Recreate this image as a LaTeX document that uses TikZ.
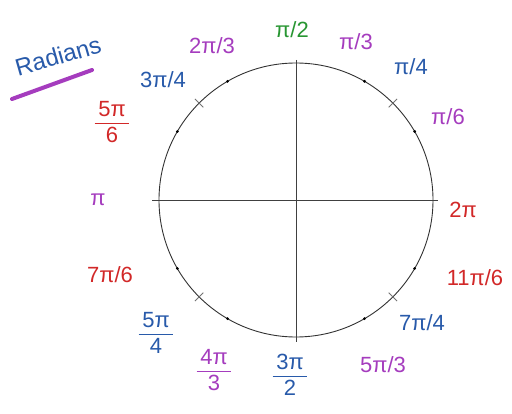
\documentclass[tikz,border=0pt]{standalone}
\usepackage{fontspec}
\setmainfont{Liberation Sans}
\usetikzlibrary{calc}
\definecolor{hgreen}{RGB}{40,150,50}
\definecolor{hpurple}{RGB}{165,60,190}
\definecolor{hblue}{RGB}{40,90,170}
\definecolor{hred}{RGB}{210,40,40}
\newcommand\stk[2]{\setlength{\arrayrulewidth}{1.8pt}\begin{tabular}{@{\,}c@{\,}}#1\\[-1pt]\hline\noalign{\vskip2pt}#2\end{tabular}}
\begin{document}
\begin{tikzpicture}[x=1pt,y=-1pt,
  lab/.style={font=\fontsize{22}{24}\selectfont, inner sep=0pt},
  stacklab/.style={font=\fontsize{22}{23}\selectfont, inner sep=0pt},
  circ/.style={draw=black!80, line width=0.9pt},
  axis/.style={draw=black!75, line width=0.9pt},
  tickmark/.style={draw=black!55, line width=0.8pt},
  dotmark/.style={fill=black}]
\useasboundingbox (0,0) rectangle (512,414);
\fill[white] (0,0) rectangle (512,414);
\coordinate (O) at (296,200);
\coordinate (L) at (152,200);
\coordinate (R) at (438,200);
\coordinate (T) at (296,60);
\coordinate (B) at (296,342);
\draw[circ] (O) circle[radius=137];
\draw[axis] (L) -- (R);
\draw[axis] (T) -- (B);
\foreach \a in {45,135,225,315}
  \draw[tickmark] ($(O)+(\a:131)$) -- ($(O)+(\a:143)$);
\foreach \a in {30,60,120,150,210,240,300,330}
  \fill[dotmark] ($(O)+(\a:137)$) circle[radius=1.6];
% title
\node[lab, hblue, rotate=16, font=\fontsize{24}{26}\selectfont] (title) at (58,56) {Radians};
\coordinate (u1) at (12,99);
\coordinate (u2) at (92,70);
\draw[hpurple, line width=4pt, line cap=round] (u1) -- (u2);
% labels
\node[lab, hgreen] (a90) at (292,30) {π/2};
\node[lab, hpurple] (a60) at (356,42) {π/3};
\node[lab, hblue] (a45) at (411,67) {π/4};
\node[lab, hpurple] (a30) at (448,117) {π/6};
\node[lab, hred] (a0) at (463,210) {2π};
\node[lab, hred] (a330) at (475,278) {11π/6};
\node[lab, hblue] (a315) at (422,323) {7π/4};
\node[lab, hpurple] (a300) at (383,365) {5π/3};
\node[stacklab, hblue] (a270) at (290,378) {\stk{3π}{2}};
\node[stacklab, hpurple] (a240) at (214,373) {\stk{4π}{3}};
\node[stacklab, hblue] (a225) at (156,336) {\stk{5π}{4}};
\node[lab, hred] (a210) at (110,275) {7π/6};
\node[lab, hpurple] (a180) at (98,200) {π};
\node[stacklab, hred] (a150) at (112,125) {\stk{5π}{6}};
\node[lab, hblue] (a135) at (163,80) {3π/4};
\node[lab, hpurple] (a120) at (212,46) {2π/3};
\end{tikzpicture}
\end{document}
